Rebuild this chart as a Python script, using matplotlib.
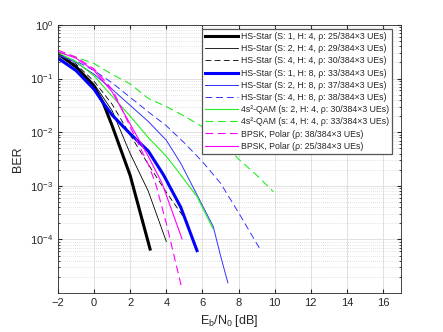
import numpy as np
import matplotlib
matplotlib.use("Agg")
import matplotlib.pyplot as plt
from matplotlib.ticker import LogLocator, NullFormatter, FixedLocator

plt.rcParams['font.family'] = ['Liberation Sans', 'DejaVu Sans']
plt.rcParams['mathtext.fontset'] = 'custom'
plt.rcParams['mathtext.rm'] = 'Liberation Sans'
plt.rcParams['mathtext.it'] = 'Liberation Sans:italic'

# ---- data (Eb/N0 in dB, BER) ----
x_s1h4 = [-2, -1, 0, 0.5, 1, 2, 3.1]
ber_s1h4 = 10 ** np.array([-0.54, -0.78, -1.15, -1.45, -1.88, -2.81, -4.18])

x_s2h4 = [-2, -1, 0, 1, 2, 3, 4]
ber_s2h4 = 10 ** np.array([-0.54, -0.76, -1.1, -1.6, -2.4, -3.1, -4.04])

x_s4h4 = [-2, -1, 0, 1, 2, 3, 4, 5.2]
ber_s4h4 = 10 ** np.array([-0.52, -0.73, -1.05, -1.48, -2.05, -2.6, -3.12, -3.7])

x_s1h8 = [-2, -1, 0, 0.5, 1, 2, 3, 3.85, 4.8, 5.7]
ber_s1h8 = 10 ** np.array([-0.62, -0.85, -1.2, -1.45, -1.68, -2.03, -2.35, -2.8, -3.4, -4.21])

x_s2h8 = [-2, -1, 0, 1, 2, 3, 4, 4.8, 5.7, 6.6, 7.0, 7.41]
ber_s2h8 = 10 ** np.array([-0.56, -0.7, -0.92, -1.2, -1.5, -1.8, -2.15, -2.58, -3.17, -3.76, -4.3, -4.81])

x_s4h8 = [-2, -1, 0, 1, 2, 3, 4, 5, 6, 7, 8, 9.17]
ber_s4h8 = 10 ** np.array([-0.56, -0.67, -0.85, -1.08, -1.35, -1.62, -1.88, -2.2, -2.55, -2.95, -3.5, -4.17])

x_qam2 = [-2, -1, 0, 1, 2, 3, 4, 4.6, 5.7, 6.57]
ber_qam2 = 10 ** np.array([-0.52, -0.68, -0.95, -1.33, -1.7, -2.1, -2.45, -2.71, -3.2, -3.79])

x_qam4 = [-2, -1, 0, 1, 2, 3, 4, 5, 6, 7, 8, 9, 9.93]
ber_qam4 = 10 ** np.array([-0.5, -0.6, -0.72, -0.92, -1.1, -1.37, -1.52, -1.7, -1.9, -2.15, -2.5, -2.8, -3.11])

x_bpsk38 = [-2, -1, 0, 1, 1.3, 2, 3, 3.4, 4, 4.87]
ber_bpsk38 = 10 ** np.array([-0.47, -0.6, -0.82, -1.2, -1.4, -1.9, -2.6, -2.95, -3.7, -4.93])

x_bpsk25 = [-2, -1, 0, 1, 2, 3, 3.76, 4.87]
ber_bpsk25 = 10 ** np.array([-0.5, -0.62, -0.85, -1.25, -1.85, -2.45, -2.95, -3.99])

labels = [
    'HS-Star (S: 1, H: 4, \u03c1: 25/384\u00d73 UEs)',
    'HS-Star (S: 2, H: 4, \u03c1: 29/384\u00d73 UEs)',
    'HS-Star (S: 4, H: 4, \u03c1: 30/384\u00d73 UEs)',
    'HS-Star (S: 1, H: 8, \u03c1: 33/384\u00d73 UEs)',
    'HS-Star (S: 2, H: 8, \u03c1: 37/384\u00d73 UEs)',
    'HS-Star (S: 4, H: 8, \u03c1: 38/384\u00d73 UEs)',
    '4s\u00b2-QAM (s: 2, H: 4, \u03c1: 30/384\u00d73 UEs)',
    '4s\u00b2-QAM (s: 4, H: 4, \u03c1: 33/384\u00d73 UEs)',
    'BPSK, Polar (\u03c1: 38/384\u00d73 UEs)',
    'BPSK, Polar (\u03c1: 25/384\u00d73 UEs)',
]

fig = plt.figure(figsize=(4.43, 3.32), dpi=100)
ax = fig.add_axes([58/443, 1-293/332, 343/443, 268/332])

ax.plot(x_s1h4, ber_s1h4, color='k', lw=2.2, label=labels[0])
ax.plot(x_s2h4, ber_s2h4, color='k', lw=0.6, label=labels[1])
ax.plot(x_s4h4, ber_s4h4, color='k', lw=0.6, ls=(0, (7, 4)), label=labels[2])
ax.plot(x_s1h8, ber_s1h8, color='#0000ff', lw=2.2, label=labels[3])
ax.plot(x_s2h8, ber_s2h8, color='#3333ff', lw=0.7, label=labels[4])
ax.plot(x_s4h8, ber_s4h8, color='#3333ff', lw=0.7, ls=(0, (7, 4)), label=labels[5])
ax.plot(x_qam2, ber_qam2, color='#22ee22', lw=0.8, label=labels[6])
ax.plot(x_qam4, ber_qam4, color='#22ee22', lw=0.8, ls=(0, (7, 4)), label=labels[7])
ax.plot(x_bpsk38, ber_bpsk38, color='#ff00ff', lw=0.8, ls=(0, (7, 4)), label=labels[8])
ax.plot(x_bpsk25, ber_bpsk25, color='#ff00ff', lw=0.8, label=labels[9])

ax.set_yscale('log')
ax.set_xlim(-2, 17)
ax.set_ylim(1e-5, 1)
ax.set_xticks(np.arange(-2, 17, 2))
ax.yaxis.set_major_locator(FixedLocator([1e-4, 1e-3, 1e-2, 1e-1, 1e0]))
ax.yaxis.set_minor_locator(LogLocator(base=10, subs=np.arange(2, 10), numticks=20))
ax.yaxis.set_minor_formatter(NullFormatter())
ax.set_yticklabels([r'10$^{-4}$', r'10$^{-3}$', r'10$^{-2}$', r'10$^{-1}$', r'10$^{0}$'])

ax.grid(True, which='major', color='#dcdcdc', lw=0.6, ls='-')
ax.grid(True, which='minor', axis='y', color='#c8c8c8', lw=0.5, ls=(0, (1, 2)))
ax.set_axisbelow(True)

ax.tick_params(which='both', direction='in', top=True, right=True, colors='#262626',
               labelsize=8, length=3)
ax.tick_params(which='minor', length=1.5)
for s in ax.spines.values():
    s.set_color('#262626')
    s.set_linewidth(0.6)

ax.set_xlabel(r'E$_\mathrm{b}$/N$_\mathrm{0}$ [dB]', fontsize=9, color='#262626')
ax.set_ylabel('BER', fontsize=9, color='#262626')

leg = ax.legend(loc='upper right', bbox_to_anchor=(0.975, 0.985), borderaxespad=0,
                fontsize=6.35, fancybox=False, edgecolor='#555555', framealpha=1,
                handlelength=3.7, handletextpad=0.35, labelspacing=0.36,
                borderpad=0.35)
leg.get_frame().set_linewidth(0.9)
for t in leg.get_texts():
    t.set_color('#262626')

fig.savefig('out.png', dpi=100)
